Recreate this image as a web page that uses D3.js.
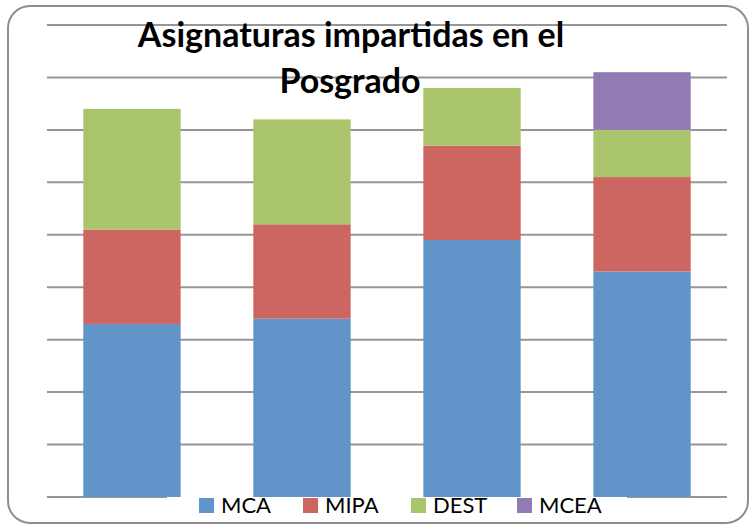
<!DOCTYPE html>
<html>
<head>
<meta charset="utf-8">
<script src="https://cdn.jsdelivr.net/npm/d3@7"></script>
<style>
body{margin:0;background:#fff}
svg{display:block}
</style>
</head>
<body>
<div id="chart"></div>
<script>
// programs (categories are not labelled in the picture)
var programs = ['P1', 'P2', 'P3', 'P4']
var seriesNames = ['MCA', 'MIPA', 'DEST', 'MCEA']
var mca  = [33, 34, 49, 43]
var mipa = [18, 18, 18, 18]
var dest = [23, 20, 11, 9]
var mcea = [0, 0, 0, 11]
var yTicks = [0, 10, 20, 30, 40, 50, 60, 70, 80, 90]
var colors = ['#6195c9', '#cd6661', '#aac46b', '#927bb2']

var W = 751, H = 526

var rows = programs.map((p, i) => ({
  program: p, MCA: mca[i], MIPA: mipa[i], DEST: dest[i], MCEA: mcea[i]
}))
var stacked = d3.stack().keys(seriesNames)(rows)

var svg = d3.select('#chart').append('svg')
  .attr('width', W).attr('height', H)

// outer frame
svg.append('rect')
  .attr('x', 8).attr('y', 6).attr('width', 740).attr('height', 517)
  .attr('rx', 22)
  .attr('fill', '#fff').attr('stroke', '#8e8e8e').attr('stroke-width', 2)

var x = d3.scaleBand().domain(programs).range([47, 727])
  .paddingInner(0.4275).paddingOuter(0.2135)
var y = d3.scaleLinear().domain([0, 90]).range([497, 25])

svg.append('g').selectAll('line').data(yTicks).join('line')
  .attr('x1', 47).attr('x2', 727)
  .attr('y1', d => y(d)).attr('y2', d => y(d))
  .attr('stroke', '#969696').attr('stroke-width', 2)

// legend background hides the base line like in the original
svg.append('rect')
  .attr('x', 167).attr('y', 496).attr('width', 460).attr('height', 26)
  .attr('fill', '#fff')

svg.append('g').selectAll('g').data(stacked).join('g')
  .attr('fill', (d, i) => colors[i])
  .selectAll('rect').data(d => d).join('rect')
  .attr('x', d => x(d.data.program))
  .attr('width', x.bandwidth())
  .attr('y', d => y(d[1]))
  .attr('height', d => y(d[0]) - y(d[1]))

// title
var title = svg.append('text')
  .attr('text-anchor', 'middle')
  .attr('font-family', 'Lato, sans-serif')
  .attr('font-weight', 'bold')
  .attr('font-size', 34)
  .attr('fill', '#000')
title.append('tspan').attr('x', 351).attr('y', 47).text('Asignaturas impartidas en el')
title.append('tspan').attr('x', 350).attr('y', 93).text('Posgrado')

// legend
var legendX = [199, 303, 411, 517]
var lg = svg.append('g').selectAll('g').data(seriesNames).join('g')
  .attr('transform', (d, i) => 'translate(' + legendX[i] + ',498)')
lg.append('rect').attr('width', 15).attr('height', 15)
  .attr('fill', (d, i) => colors[i])
lg.append('text')
  .attr('x', 22).attr('y', 15)
  .attr('font-family', 'Lato, sans-serif')
  .attr('font-size', 22)
  .attr('fill', '#000')
  .text(d => d)
</script>
</body>
</html>
